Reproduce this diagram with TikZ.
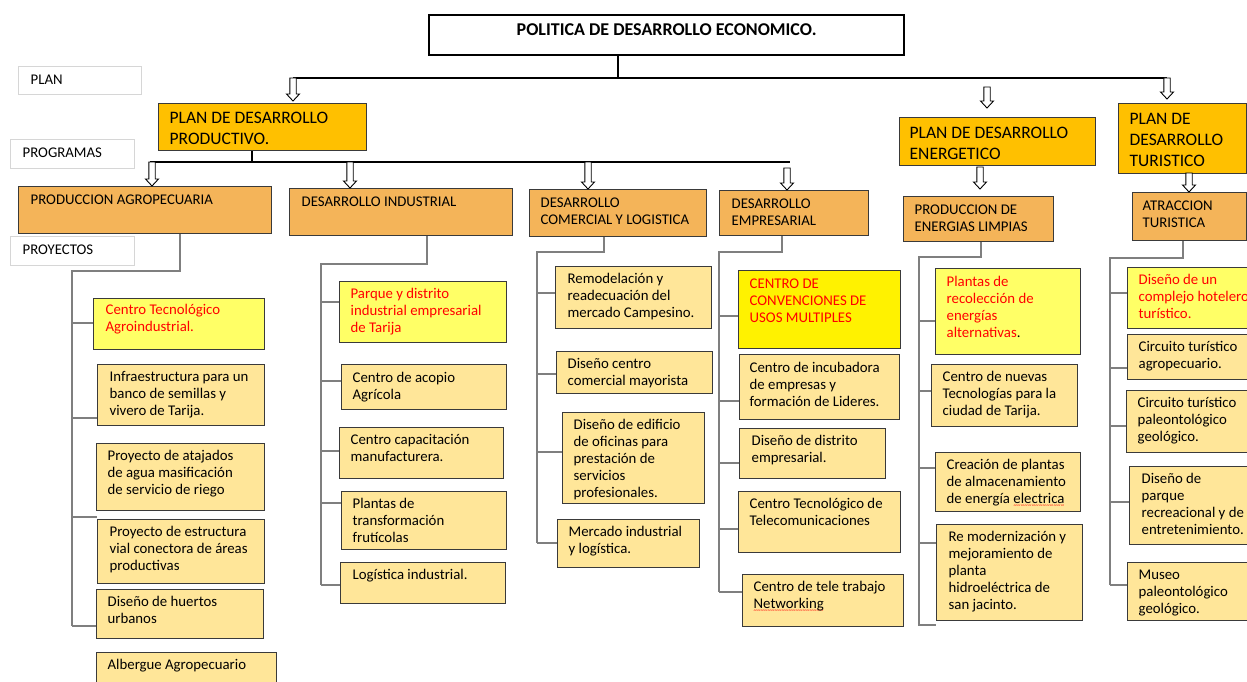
\documentclass[tikz,border=0pt]{standalone}
\usepackage{fontspec}
\setmainfont{Carlito}
\usetikzlibrary{calc}

\definecolor{planfill}{HTML}{FFC000}
\definecolor{progfill}{HTML}{F4B459}
\definecolor{proyfill}{HTML}{FFE699}
\definecolor{clavefill}{HTML}{FFFF66}
\definecolor{rojo}{HTML}{FF0000}
\definecolor{borde}{HTML}{3A3A3A}
\definecolor{ramagris}{HTML}{7F7F7F}

\newcommand{\fproy}{\fontsize{14.8}{17}\selectfont}
\newcommand{\fplan}{\fontsize{17.5}{21}\selectfont}
\newcommand{\ftit}{\fontsize{18}{22}\selectfont\bfseries}
% caja: [top]{left pad}{width}{height}{lines}
\newcommand{\caja}[5][5]{\parbox[c][#4pt][t]{#3pt}{\vspace*{#1pt}\hspace*{#2pt}\begin{tabular}[t]{@{}l@{}}#5\end{tabular}}}
\newsavebox{\subbox}
\newcommand{\subrojo}[1]{\sbox{\subbox}{#1}\rlap{\color{rojo}\raisebox{-3.5pt}{\hbox to \wd\subbox{\xleaders\hbox{\fontsize{7}{7}\selectfont\char"7E}\hfil}}}\usebox{\subbox}}

\begin{document}
\begin{tikzpicture}[x=1pt, y=-1pt,
    plan/.style={draw=borde, line width=1.3pt, fill=planfill, anchor=north west, inner sep=0pt, font=\fplan},
    prog/.style={plan, fill=progfill, font=\fproy},
    proy/.style={plan, fill=proyfill, font=\fproy},
    clave/.style={proy, fill=clavefill, text=rojo},
    etiq/.style={draw=black!16, line width=1.3pt, fill=white, anchor=north west, inner sep=0pt, font=\fproy},
    titulo/.style={draw=black, line width=2.3pt, fill=white, anchor=north west, inner sep=0pt, font=\ftit},
    bus/.style={line width=2pt},
    rama/.style={draw=ramagris, line width=2.4pt},
    flecha/.style={draw=black, line width=0.9pt, fill=white, to path={
        ($(\tikztostart)+(-3.2,0)$) -- ($(\tikztotarget)+(-3.2,-7)$) -- ($(\tikztotarget)+(-6.5,-7)$)
        -- (\tikztotarget) -- ($(\tikztotarget)+(6.5,-7)$) -- ($(\tikztotarget)+(3.2,-7)$)
        -- ($(\tikztostart)+(3.2,0)$) -- cycle}}]
\useasboundingbox (0,0) rectangle (1247,682);

% Politica
\node[titulo] (pol) at (428,14) {\parbox[c][40pt][t]{475pt}{\centering\vspace*{4.6pt}\strut POLITICA DE DESARROLLO ECONOMICO.}};

% Niveles
\node[etiq] (lplan) at (18,66) {\caja[5.5]{12}{123}{28}{PLAN}};
\node[etiq] (lprog) at (10,139) {\caja[5.5]{12}{124}{29}{PROGRAMAS}};
\node[etiq] (lproy) at (10,236) {\caja[5.5]{12}{124}{29}{PROYECTOS}};

% Planes
\node[plan] (pdp) at (158,103) {\caja{11}{208}{47}{PLAN DE DESARROLLO\\PRODUCTIVO.}};
\node[plan] (pde) at (899,117) {\caja[6]{10}{196}{48}{PLAN DE DESARROLLO\\ENERGETICO}};
\node[plan] (pdt) at (1118,103) {\caja[6]{11}{128}{70}{PLAN DE\\DESARROLLO\\TURISTICO}};

% Programas
\node[prog] (pa) at (18,186) {\caja[5.5]{12}{253}{47}{PRODUCCION AGROPECUARIA}};
\node[prog] (di) at (289,188) {\caja[5.5]{12}{223}{47}{DESARROLLO INDUSTRIAL}};
\node[prog] (dc) at (529,189) {\caja[6]{11}{177}{47}{DESARROLLO\\COMERCIAL Y LOGISTICA}};
\node[prog] (de) at (719,190) {\caja[6]{12}{149}{45}{DESARROLLO\\EMPRESARIAL}};
\node[prog] (pel) at (903,196) {\caja[5.5]{11}{150}{45}{PRODUCCION DE\\ENERGIAS LIMPIAS}};
\node[prog] (at) at (1132,192) {\caja[5.5]{10}{114}{48}{ATRACCION\\TURISTICA}};

% Proyectos: produccion agropecuaria
\node[clave] (a1) at (93,298) {\caja[3.5]{12}{171}{51}{Centro Tecnológico\\Agroindustrial.}};
\node[proy] (a2) at (97,364) {\caja{12}{167}{61}{Infraestructura para un\\banco de semillas y\\vivero de Tarija.}};
\node[proy] (a3) at (96,443) {\caja{11}{168}{67}{Proyecto de atajados\\de agua masificación\\de servicio de riego}};
\node[proy] (a4) at (97,519) {\caja{12}{167}{64}{Proyecto de estructura\\vial conectora de áreas\\productivas}};
\node[proy] (a5) at (96,589) {\caja{11}{167}{49}{Diseño de huertos\\urbanos}};
\node[proy] (a6) at (96,652) {\caja{11}{180}{45}{Albergue Agropecuario}};

% Proyectos: desarrollo industrial
\node[clave] (b1) at (339,281) {\caja{11}{167}{61}{Parque y distrito\\industrial empresarial\\de Tarija}};
\node[proy] (b2) at (341,364) {\caja[6]{11}{165}{45}{Centro de acopio\\Agrícola}};
\node[proy] (b3) at (339,427) {\caja{11}{164}{51}{Centro capacitación\\manufacturera.}};
\node[proy] (b4) at (341,491) {\caja{11}{165}{58}{Plantas de\\transformación\\frutícolas}};
\node[proy] (b5) at (340,562) {\caja{12}{165}{41}{Logística industrial.}};

% Proyectos: desarrollo comercial
\node[proy] (c1) at (555,266) {\caja{12}{156}{62}{Remodelación y\\readecuación del\\mercado Campesino.}};
\node[proy] (c2) at (556,351) {\caja{11}{156}{42}{Diseño centro\\comercial mayorista}};
\node[proy] (c3) at (562,412) {\caja{11}{142}{91}{Diseño de edificio\\de oficinas para\\prestación de\\servicios\\profesionales.}};
\node[proy] (c4) at (557,519) {\caja{11}{142}{48}{Mercado industrial\\y logística.}};

% Proyectos: desarrollo empresarial
\node[clave, fill=yellow] (d1) at (738,270) {\caja[6]{11}{162}{78}{CENTRO DE\\CONVENCIONES DE\\USOS MULTIPLES}};
\node[proy] (d2) at (739,354) {\caja[6]{10}{160}{65}{Centro de incubadora\\de empresas y\\formación de Lideres.}};
\node[proy] (d3) at (739,428) {\caja{12}{146}{50}{Diseño de distrito\\empresarial.}};
\node[proy] (d4) at (738,491) {\caja{11}{162}{61}{Centro Tecnológico de\\Telecomunicaciones}};
\node[proy] (d5) at (742,574) {\caja{11}{161}{52}{Centro de tele trabajo\\\subrojo{Networking}}};

% Proyectos: energias limpias
\node[clave] (e1) at (935,268) {\caja[5.5]{11}{145}{86}{Plantas de\\recolección de\\energías\\alternativas{\color{black}.}}};
\node[proy] (e2) at (931,364) {\caja{11}{146}{62}{Centro de nuevas\\Tecnologías para la\\ciudad de Tarija.}};
\node[proy] (e3) at (935,452) {\caja{11}{145}{59}{Creación de plantas\\de almacenamiento\\de energía \subrojo{electrica}}};
\node[proy] (e4) at (936,524) {\caja{12}{146}{96}{Re modernización y\\mejoramiento de\\planta\\hidroeléctrica de\\san jacinto.}};

% Proyectos: atraccion turistica
\node[clave] (f1) at (1127,267) {\caja{11}{130}{61}{Diseño de un\\complejo hotelero\\turístico.}};
\node[proy] (f2) at (1127,334) {\caja{11}{130}{45}{Circuito turístico\\agropecuario.}};
\node[proy] (f3) at (1126,390) {\caja{11}{130}{62}{Circuito turístico\\paleontológico\\geológico.}};
\node[proy] (f4) at (1129,466) {\caja{12}{130}{78}{Diseño de\\parque\\recreacional y de\\entretenimiento.}};
\node[proy] (f5) at (1127,562) {\caja{11}{130}{58}{Museo\\paleontológico\\geológico.}};

% barra de planes
\coordinate (pd) at (618,78);
\coordinate (bw) at (293,78);
\coordinate (be) at (1167,78);
\draw[bus] (pol.south -| pd) -- (pd);
\draw[bus] (bw) -- (be);
\draw[flecha] (bw) to ($(pdp.north -| bw)+(0,-2)$);
\coordinate (fe) at (987,87);
\draw[flecha] (fe) to ($(pde.north -| fe)+(0,-9)$);
\draw[flecha] (be) to ($(pdt.north -| be)+(0,-4)$);

% barra de programas
\coordinate (pp) at (252,162);
\coordinate (pw) at (150,162);
\coordinate (pe) at (790,162);
\draw[bus] (pdp.south -| pp) -- (pp);
\draw[bus] (pw) -- (pe);
\foreach \n/\x in {pa/152, di/350, dc/588}
    \draw[flecha] (pw -| \x,0) to (\n.north -| \x,0);
\coordinate (fd) at (787,168);
\draw[flecha] (fd) to (de.north -| fd);
\coordinate (fl) at (980,167);
\draw[flecha] (fl) to ($(pel.north -| fl)+(0,-7)$);
\coordinate (ft) at (1189,173);
\draw[flecha] (ft) to (at.north -| ft);

% ramas de proyectos
\coordinate (t1) at (72,271);
\draw[rama] (pa.south -| 180,0) |- (t1) -- (t1 |- 0,626);
\foreach \n/\y in {a1/323, a2/418, a4/517, a5/626}
    \draw[rama] (t1 |- 0,\y) -- (\n.west |- 0,\y);

\coordinate (t2) at (321,264);
\draw[rama] (di.south -| 427,0) |- (t2) -- (t2 |- 0,585);
\foreach \n/\y in {b1/302, b2/381, b3/451, b4/503, b5/585}
    \draw[rama] (t2 |- 0,\y) -- (\n.west |- 0,\y);

\coordinate (t3) at (537,252);
\draw[rama] (dc.south -| 604,0) |- (t3) -- (t3 |- 0,543);
\foreach \n/\y in {c1/293, c2/374, c3/452, c4/543}
    \draw[rama] (t3 |- 0,\y) -- (\n.west |- 0,\y);

\coordinate (t4) at (719,252);
\draw[rama] (de.south -| 782,0) |- (t4) -- (t4 |- 0,592);
\foreach \n/\y in {d1/316, d2/401, d3/463, d4/529, d5/592}
    \draw[rama] (t4 |- 0,\y) -- (\n.west |- 0,\y);

\coordinate (t5) at (919,257);
\draw[rama] (pel.south -| 981,0) |- (t5) -- (t5 |- 0,626);
\foreach \n/\y in {e1/321, e2/391, e3/468, e4/543, e4/625}
    \draw[rama] (t5 |- 0,\y) -- (\n.west |- 0,\y);

\coordinate (t6) at (1110,258);
\draw[rama] (at.south -| 1183,0) |- (t6) -- (t6 |- 0,585);
\foreach \n/\y in {f1/293, f2/368, f3/426, f4/502, f5/585}
    \draw[rama] (t6 |- 0,\y) -- (\n.west |- 0,\y);
\end{tikzpicture}
\end{document}
